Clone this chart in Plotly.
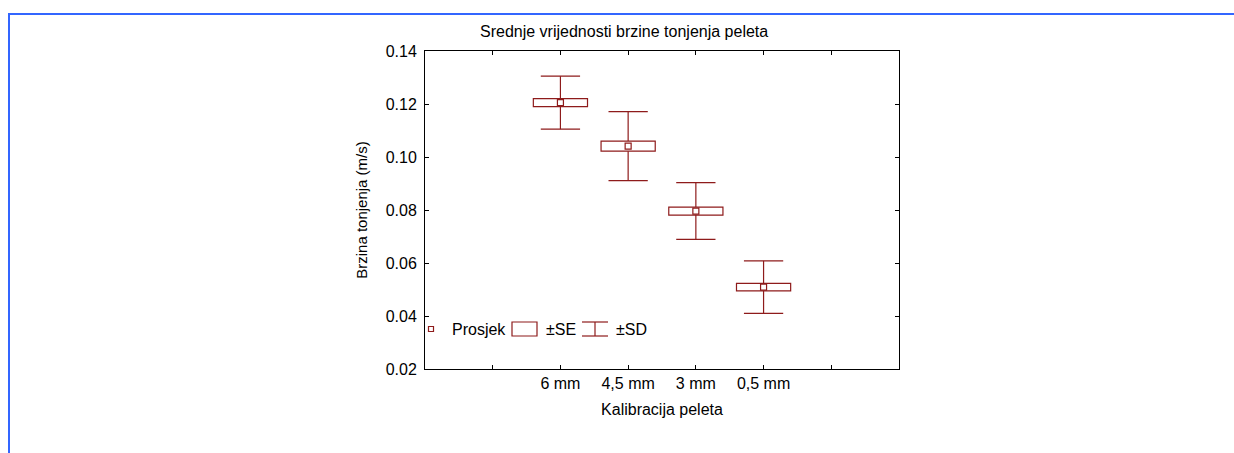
import plotly.graph_objects as go

# Pellet calibration classes and sinking-speed statistics (m/s)
categories = ["6 mm", "4,5 mm", "3 mm", "0,5 mm"]
positions = [2, 3, 4, 5]
means = [0.1205, 0.1041, 0.0796, 0.0509]
se = [0.0015, 0.0019, 0.0015, 0.0014]
sd = [0.0100, 0.0130, 0.0107, 0.0099]

y_ticks = [0.02, 0.04, 0.06, 0.08, 0.10, 0.12, 0.14]
x_ticks = [1, 2, 3, 4, 5, 6]

RED = "#8E1B1B"
BLUE = "#3366FF"
FONT = "Liberation Sans, Arial, sans-serif"

W, H = 1234, 453
L, R, T, B = 425, 899, 51, 369  # plot area in pixels

fig = go.Figure()

# ±SD whiskers: stem from box edge to the SD limit, plus a cap
cap = 0.29
wx, wy = [], []
for p, m, e, s in zip(positions, means, se, sd):
    wx += [p, p, None, p - cap, p + cap, None]
    wy += [m + e, m + s, None, m + s, m + s, None]
    wx += [p, p, None, p - cap, p + cap, None]
    wy += [m - e, m - s, None, m - s, m - s, None]
fig.add_trace(go.Scatter(x=wx, y=wy, mode="lines",
                         line=dict(color=RED, width=1.2),
                         hoverinfo="skip", showlegend=False))

# ±SE boxes
fig.add_trace(go.Bar(x=positions, y=[2 * e for e in se],
                     base=[m - e for m, e in zip(means, se)],
                     width=0.8,
                     marker=dict(color="white", line=dict(color=RED, width=1.2)),
                     showlegend=False))

# Means
fig.add_trace(go.Scatter(x=positions, y=means, mode="markers",
                         marker=dict(symbol="square-open", size=6, color=RED,
                                     line=dict(width=1.2)),
                         showlegend=False))


def dx(px):
    return (px - L) / (R - L)


def dy(py):
    return (B - py) / (B - T)


shapes = []
# Legend: mean marker
shapes.append(dict(type="rect", xref="x domain", yref="y domain",
                   x0=dx(428.5), x1=dx(433.5), y0=dy(331.5), y1=dy(326.5),
                   line=dict(color=RED, width=1.2), fillcolor="white"))
# Legend: SE box
shapes.append(dict(type="rect", xref="x domain", yref="y domain",
                   x0=dx(512), x1=dx(537), y0=dy(336), y1=dy(322),
                   line=dict(color=RED, width=1.2), fillcolor="white"))
# Legend: SD whisker symbol
for yy in (322, 336):
    shapes.append(dict(type="line", xref="x domain", yref="y domain",
                       x0=dx(582), x1=dx(608), y0=dy(yy), y1=dy(yy),
                       line=dict(color=RED, width=1.2)))
shapes.append(dict(type="line", xref="x domain", yref="y domain",
                   x0=dx(595), x1=dx(595), y0=dy(322), y1=dy(336),
                   line=dict(color=RED, width=1.2)))

# Outer blue frame (top and left edges)
shapes.append(dict(type="line", xref="paper", yref="paper",
                   x0=(8 - L) / (R - L), x1=(W - L) / (R - L),
                   y0=(B - 14) / (B - T), y1=(B - 14) / (B - T),
                   line=dict(color=BLUE, width=2)))
shapes.append(dict(type="line", xref="paper", yref="paper",
                   x0=(9 - L) / (R - L), x1=(9 - L) / (R - L),
                   y0=(B - 13) / (B - T), y1=(B - H) / (B - T),
                   line=dict(color=BLUE, width=2)))

annotations = []
for px, txt in [(450, "Prosjek"), (544, "±SE"), (614, "±SD")]:
    annotations.append(dict(xref="x domain", yref="y domain", x=dx(px), y=dy(329),
                            xanchor="left", yanchor="middle", text=txt,
                            showarrow=False, font=dict(size=16, color="black")))
annotations.append(dict(xref="paper", yref="paper", x=dx(623.5), y=dy(31),
                        xanchor="center", yanchor="middle",
                        text="Srednje vrijednosti brzine tonjenja peleta",
                        showarrow=False, font=dict(size=16, color="black")))

axis_common = dict(showline=True, linecolor="black", linewidth=1, mirror="ticks",
                   ticks="inside", ticklen=4, tickcolor="black", showgrid=False,
                   zeroline=False, tickfont=dict(size=16, color="black"))

fig.update_layout(
    width=W, height=H,
    margin=dict(l=L, r=W - R, t=T, b=H - B),
    paper_bgcolor="white", plot_bgcolor="white",
    font=dict(family=FONT, color="black"),
    showlegend=False,
    shapes=shapes, annotations=annotations,
    xaxis=dict(range=[0, 7], tickvals=x_ticks,
               ticktext=[""] + categories + [""],
               title=dict(text="Kalibracija peleta", font=dict(size=16), standoff=12),
               **axis_common),
    yaxis=dict(range=[0.02, 0.14], tickvals=y_ticks,
               ticktext=[f"{v:.2f}" for v in y_ticks],
               ticklabelstandoff=4,
               title=dict(text="Brzina tonjenja (m/s)", font=dict(size=15), standoff=14),
               **axis_common),
)

fig.write_html("out.html")
